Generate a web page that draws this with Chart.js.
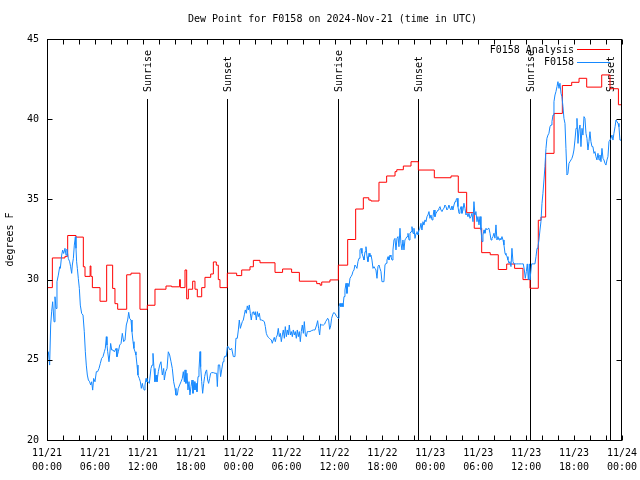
<!DOCTYPE html>
<html>
<head>
<meta charset="utf-8">
<script src="https://cdn.jsdelivr.net/npm/chart.js@4.4.1/dist/chart.umd.min.js"></script>
<style>
  html, body { margin: 0; padding: 0; background: #fff; }
  canvas { display: block; }
</style>
</head>
<body>
<canvas id="c" width="640" height="480"></canvas>
<script>
// ---------------- data (hours since 2024-11-21 00:00 UTC) ----------------
const chartTitle = 'Dew Point for F0158 on 2024-Nov-21 (time in UTC)';
const yTitle = 'degrees F';
const tickDates = ['11/21','11/21','11/21','11/21','11/22','11/22','11/22','11/22','11/23','11/23','11/23','11/23','11/24'];
const tickTimes = ['00:00','06:00','12:00','18:00','00:00','06:00','12:00','18:00','00:00','06:00','12:00','18:00','00:00'];

const sunEventHours = [12.56, 22.6, 36.48, 46.49, 60.52, 70.54];
const sunEventLabels = ['Sunrise','Sunset','Sunrise','Sunset','Sunrise','Sunset'];

// F0158 Analysis (red, stepped: value holds from given hour)
const analysisHours = [0.0,0.67,2.25,2.59,3.63,4.55,4.76,5.4,5.5,5.68,6.64,7.47,8.22,8.51,8.85,9.98,10.52,11.64,12.56,13.52,
  14.9,15.61,16.6,16.7,17.28,17.49,17.7,18.24,18.53,18.82,19.37,19.78,20.5,20.83,21.2,21.45,21.66,22.58,23.75,24.38,
  25.42,25.84,26.67,28.55,29.5,30.63,31.6,33.77,34.2,34.4,35.43,36.48,37.65,38.65,39.61,40.3,40.57,41.57,42.53,43.58,
  43.8,44.62,45.58,46.5,48.5,50.59,51.5,52.55,53.5,54.43,55.5,56.51,57.56,58.55,59.6,60.48,61.52,61.86,62.44,63.49,
  64.53,65.7,66.62,67.58,69.46,70.5,71.55,72.0];
const analysisDew = [29.5,31.35,31.45,32.75,32.65,30.8,30.2,30.85,30.2,29.5,28.65,30.9,29.45,28.5,28.15,30.3,30.4,28.15,28.4,29.4,
  29.6,29.55,30.0,29.5,30.6,28.8,29.4,29.9,29.4,28.93,29.5,30.14,30.35,31.1,30.9,30.0,29.5,30.4,30.25,30.6,
  30.8,31.2,31.05,30.45,30.66,30.45,29.9,29.75,29.65,29.85,29.98,30.9,32.5,34.4,35.1,34.96,34.9,36.07,36.46,36.73,
  36.85,37.08,37.35,36.83,36.35,36.46,35.44,34.17,33.2,31.68,31.55,30.63,30.97,30.7,30.0,29.46,33.7,33.9,37.87,40.36,
  42.1,42.3,42.55,42.0,42.76,41.9,40.9,40.9];

// F0158 observations (blue)
const obsHours = [0.0,0.17,0.33,0.46,0.58,0.71,0.88,1.0,1.13,1.25,1.42,1.59,1.67,1.84,1.96,2.09,2.25,2.38,2.5,2.67,
  2.84,2.96,3.09,3.17,3.3,3.42,3.55,3.63,3.71,3.8,3.92,4.05,4.17,4.34,4.51,4.67,4.8,4.92,5.05,5.18,
  5.34,5.47,5.59,5.72,5.84,6.01,6.18,6.34,6.51,6.68,6.84,7.01,7.18,7.3,7.43,7.51,7.6,7.76,7.85,7.97,
  8.1,8.26,8.43,8.64,8.76,8.93,9.1,9.27,9.43,9.6,9.77,9.93,10.1,10.23,10.35,10.52,10.64,10.77,10.89,11.02,
  11.14,11.27,11.39,11.56,11.69,11.81,11.94,12.06,12.19,12.27,12.4,12.52,12.69,12.81,13.02,13.15,13.27,13.4,13.52,13.65,
  13.77,13.94,14.11,14.27,14.44,14.61,14.69,14.86,15.03,15.19,15.36,15.53,15.69,15.86,16.03,16.15,16.32,16.44,16.61,16.78,
  16.94,17.07,17.2,
  17.28,17.4,17.53,17.65,17.78,17.9,18.03,18.16,18.28,18.41,18.53,18.66,18.78,18.91,19.03,19.16,19.24,19.37,19.49,19.62,
  19.74,19.87,19.99,20.12,20.24,20.37,20.49,20.62,20.83,21.04,21.24,21.33,21.45,21.62,21.74,21.87,22.04,22.16,22.29,22.45,
  22.58,22.7,22.91,23.12,23.33,23.54,23.66,23.83,23.96,24.08,24.21,24.33,24.46,24.58,24.71,24.83,24.96,25.08,25.21,25.33,
  25.46,25.58,25.71,25.83,25.96,26.08,26.21,26.34,26.46,26.59,26.71,26.88,27.05,27.21,27.34,27.46,27.59,27.71,27.84,27.96,
  28.09,28.21,28.34,28.46,28.59,28.71,28.84,28.96,29.09,29.22,29.34,29.47,29.59,29.72,29.84,29.97,30.09,30.22,30.34,30.47,
  30.59,30.72,30.84,30.97,31.09,31.22,31.34,31.47,31.59,31.72,31.84,31.97,32.1,32.22,32.35,32.47,32.6,32.72,32.93,33.14,
  33.35,33.56,33.76,33.89,34.01,34.14,34.26,34.39,34.51,34.64,34.77,34.89,35.02,35.14,35.27,35.39,35.52,35.64,35.77,35.89,
  36.06,36.27,36.48,36.56,36.69,36.81,36.94,37.06,37.19,37.31,37.44,37.56,37.69,37.81,37.94,38.06,38.19,38.31,38.44,38.56,
  38.69,38.81,38.94,39.07,39.19,39.32,39.44,39.57,39.69,39.82,39.94,40.07,40.19,40.32,40.44,40.57,40.69,40.82,40.94,41.07,
  41.19,41.32,41.44,41.57,41.69,41.82,41.94,42.07,42.19,42.32,42.45,42.57,42.7,42.82,42.95,43.07,43.2,43.32,43.45,43.57,
  43.7,43.82,43.95,44.07,44.2,44.32,44.45,44.57,44.7,44.82,44.94,45.08,45.2,45.33,45.45,45.58,45.7,45.83,45.95,46.08,
  46.21,46.33,46.45,46.58,46.7,46.83,46.95,47.08,47.2,47.33,47.45,47.58,47.7,47.83,47.95,48.08,48.21,48.33,48.46,48.58,
  48.71,48.83,48.96,49.08,49.21,49.33,49.46,49.58,49.71,49.83,49.96,50.08,50.21,50.33,50.46,50.58,50.71,50.83,50.96,51.09,
  51.21,51.34,51.46,51.59,51.71,51.84,51.96,52.09,52.21,52.34,52.46,52.59,52.71,52.84,52.96,
  53.09,53.21,53.34,53.46,53.59,53.71,53.84,53.96,54.09,54.22,54.34,54.47,54.59,54.72,54.84,54.97,55.09,55.22,55.34,55.47,
  55.6,55.72,55.84,55.97,56.09,56.22,56.34,56.47,56.6,56.72,56.84,56.97,57.1,57.22,57.35,57.47,57.6,57.72,57.85,57.97,
  58.1,58.22,58.35,58.47,58.6,58.81,59.02,59.22,59.43,59.64,59.77,59.89,60.02,60.14,60.27,60.39,60.48,60.68,60.89,61.1,
  61.23,61.36,61.48,61.6,
  61.73,61.85,61.98,62.1,62.23,62.35,62.48,62.6,62.73,62.85,62.98,63.11,63.23,63.36,63.48,63.61,63.73,63.86,63.98,64.11,
  64.23,64.36,64.48,64.61,64.73,64.86,64.98,65.11,65.23,65.36,65.48,65.61,65.73,65.86,65.98,66.11,66.24,66.36,66.49,66.61,
  66.74,66.86,66.99,67.11,67.24,67.36,67.49,67.61,67.74,67.86,67.99,68.11,68.24,68.36,68.49,68.61,68.74,68.86,68.99,69.12,
  69.24,69.37,69.49,69.62,69.74,69.87,69.99,70.12,70.24,70.37,70.49,70.62,70.74,70.87,70.99,71.13,71.25,71.37,71.5,71.62,
  71.74,71.87,72.0];
const obsDew = [25.4,25.5,24.67,27.17,27.99,28.62,27.37,28.93,28.2,29.87,30.28,30.8,30.7,31.53,31.84,31.63,31.95,31.53,31.9,31.32,
  31.11,30.8,30.39,30.91,31.32,32.15,32.67,31.95,31.11,30.7,30.08,29.45,28.41,27.89,27.79,26.75,25.5,24.67,24.05,23.74,
  23.63,23.43,23.63,23.11,23.84,23.63,24.26,24.26,24.46,24.78,25.09,25.19,25.5,25.71,26.44,25.92,25.5,24.88,25.3,26.02,
  25.61,25.61,25.5,25.71,25.19,25.5,25.92,26.02,26.65,26.13,26.23,27.17,27.48,27.96,27.58,27.48,26.75,26.13,25.71,25.5,
  25.3,24.67,24.05,23.84,23.63,23.22,23.53,23.22,23.11,23.43,23.84,23.63,23.63,23.53,24.46,24.67,25.4,24.46,23.63,24.05,
  23.63,24.26,24.67,24.88,24.05,24.46,23.74,24.26,24.46,25.5,25.3,24.88,24.46,23.63,23.22,22.8,22.8,23.22,23.43,23.63,
  23.84,24.26,23.63,
  24.37,23.53,24.16,23.12,23.64,22.81,23.33,23.74,22.91,23.64,23.12,23.53,23.01,23.95,24.37,25.51,24.57,23.64,22.91,23.53,
  23.95,24.26,24.37,23.74,23.53,23.85,24.16,24.2,24.2,24.16,24.16,23.33,24.68,24.68,23.95,24.37,24.88,25.09,25.24,25.2,
  25.82,25.82,25.61,25.72,25.2,25.2,26.34,26.34,26.86,27.48,26.96,27.17,27.38,27.48,27.8,28.11,27.9,28.36,28.11,28.42,
  27.9,27.48,27.94,28.0,27.8,28.0,27.48,28.0,27.69,27.9,27.48,27.48,27.44,27.38,27.07,26.65,26.49,26.4,26.34,26.28,
  26.24,26.03,26.24,26.4,26.13,26.4,26.55,26.96,26.44,26.65,26.13,26.55,26.86,26.34,27.07,26.44,26.86,26.55,27.17,26.55,
  26.76,26.44,26.86,26.55,26.76,26.34,26.86,26.44,26.76,26.13,26.76,27.17,26.65,27.38,26.55,26.44,26.76,26.76,26.76,26.82,
  26.86,26.86,27.17,27.44,26.96,26.55,27.23,27.17,27.17,27.17,27.23,27.38,27.48,27.59,27.48,26.9,27.11,27.59,27.8,27.94,
  27.9,27.69,27.59,28.31,28.52,28.31,28.52,28.31,28.94,29.35,29.77,29.14,29.77,29.56,30.08,30.18,30.29,30.5,30.6,30.91,
  30.81,30.7,31.12,31.33,31.85,31.95,31.64,31.43,31.22,31.74,32.05,31.43,31.12,31.64,31.43,31.53,31.22,30.7,30.81,30.7,
  30.6,30.08,30.81,30.91,30.7,30.5,29.87,29.87,29.87,30.91,31.02,31.22,31.43,31.22,31.53,31.43,31.22,31.85,32.47,32.57,
  31.85,32.57,32.68,32.05,33.2,32.26,31.85,32.47,31.85,32.47,32.57,32.68,32.88,32.47,32.88,32.99,33.3,32.88,33.2,32.57,
  32.88,32.99,32.78,33.09,33.2,33.51,33.09,33.61,33.4,33.72,33.61,33.92,34.03,34.24,33.82,34.03,33.72,33.92,34.34,33.92,
  34.13,34.13,34.34,34.44,34.55,34.34,34.24,34.38,34.44,34.65,34.55,34.34,34.44,34.65,34.44,34.34,34.59,34.34,34.65,34.86,
  34.96,35.07,34.55,34.13,34.34,34.55,34.13,34.34,34.76,34.44,34.03,34.13,33.92,34.13,33.82,
  33.93,34.13,33.61,34.86,34.03,34.24,33.61,33.93,33.41,33.93,33.1,32.37,32.78,33.1,32.89,33.2,33.1,33.18,33.2,32.89,
  32.47,32.58,32.68,32.89,32.58,33.41,32.47,32.68,32.47,32.58,32.47,32.68,32.47,32.16,31.64,31.54,31.43,31.23,31.02,31.12,
  30.81,31.95,31.12,30.98,30.98,30.98,30.98,30.98,30.98,30.98,30.6,30.08,30.5,30.98,29.98,30.98,29.98,30.98,30.98,30.98,
  31.43,31.95,32.06,32.47,
  33.09,33.61,34.75,35.38,36.21,37.04,38.18,38.81,39.01,39.12,39.53,39.64,39.85,40.26,41.09,41.51,41.72,42.03,42.34,41.92,
  42.24,41.61,41.4,40.78,40.05,39.74,38.18,36.52,36.62,37.25,37.35,37.46,37.56,37.77,38.08,38.7,39.43,40.05,38.49,39.33,
  39.64,38.29,39.43,39.01,40.16,40.05,39.12,38.81,38.08,38.6,39.22,38.6,38.29,38.29,37.87,37.98,37.66,37.46,37.87,37.46,
  37.77,37.35,38.18,37.56,37.46,37.25,37.14,37.46,37.66,38.6,38.7,38.81,39.01,38.7,39.12,39.53,39.95,39.95,39.74,39.53,
  38.7,38.7,38.6];

const yMin = 20, yMax = 45, yStep = 5;
const xMin = 0, xMax = 72, xStep = 2;

// ---------------- chart ----------------
const MONO = '"DejaVu Sans Mono", "Liberation Mono", monospace';
Chart.defaults.font.family = MONO;
Chart.defaults.font.size = 10;
Chart.defaults.color = '#000';

const framePlugin = {
  id: 'framePlugin',
  beforeDatasetsDraw(chart) {
    const { ctx, chartArea: a, scales: { x } } = chart;
    ctx.save();
    ctx.strokeStyle = '#000';
    ctx.lineWidth = 1;
    ctx.fillStyle = '#000';
    ctx.font = '10px ' + MONO;
    sunEventHours.forEach((h, i) => {
      const px = Math.round(x.getPixelForValue(h)) + 0.5;
      ctx.beginPath();
      ctx.moveTo(px, a.top + 60);
      ctx.lineTo(px, a.bottom);
      ctx.stroke();
      ctx.save();
      ctx.translate(px + 1, a.top + 53);
      ctx.rotate(-Math.PI / 2);
      ctx.textAlign = 'left';
      ctx.textBaseline = 'middle';
      ctx.fillText(sunEventLabels[i], 0, 0);
      ctx.restore();
    });
    ctx.restore();
  },
  afterDraw(chart) {
    const { ctx, chartArea: a, scales: { x, y } } = chart;
    ctx.save();
    // title
    ctx.font = '10px ' + MONO;
    ctx.fillStyle = '#000';
    ctx.textAlign = 'center';
    ctx.textBaseline = 'middle';
    ctx.fillText(chartTitle, (a.left + a.right) / 2 - 2, 19);

    ctx.strokeStyle = '#000';
    ctx.lineWidth = 1;
    const L = Math.round(a.left) + 0.5, R = Math.round(a.right) - 0.5;
    const T = Math.round(a.top) + 0.5, B = Math.round(a.bottom) + 0.5;
    ctx.strokeRect(L, T, R - L, B - T);
    const tl = 5;
    ctx.beginPath();
    for (let v = xMin; v <= xMax; v += xStep) {
      const px = Math.round(x.getPixelForValue(v)) + 0.5;
      ctx.moveTo(px, B); ctx.lineTo(px, B - tl);
      ctx.moveTo(px, T); ctx.lineTo(px, T + tl);
    }
    for (let v = yMin; v <= yMax; v += yStep) {
      const py = Math.round(y.getPixelForValue(v)) + 0.5;
      ctx.moveTo(L, py); ctx.lineTo(L + tl, py);
      ctx.moveTo(R, py); ctx.lineTo(R - tl, py);
    }
    ctx.stroke();

    // legend (top right, inside plot)
    ctx.textAlign = 'right';
    chart.data.datasets.forEach((ds, i) => {
      const ly = a.top + 11 + i * 12.5;
      ctx.fillStyle = '#000';
      ctx.fillText(ds.label, a.right - 48, ly);
      ctx.strokeStyle = ds.borderColor;
      ctx.beginPath();
      ctx.moveTo(a.right - 45, Math.round(ly - 1) + 0.5);
      ctx.lineTo(a.right - 12, Math.round(ly - 1) + 0.5);
      ctx.stroke();
    });
    ctx.restore();
  }
};

new Chart(document.getElementById('c'), {
  type: 'line',
  data: {
    datasets: [
      {
        label: 'F0158 Analysis',
        data: analysisHours.map((h, i) => ({ x: h, y: analysisDew[i] })),
        borderColor: '#ff0000',
        borderWidth: 1,
        pointRadius: 0,
        stepped: 'before',
        fill: false,
        order: 1
      },
      {
        label: 'F0158',
        data: obsHours.map((h, i) => ({ x: h, y: obsDew[i] })),
        borderColor: '#1588ff',
        borderWidth: 1,
        pointRadius: 0,
        tension: 0,
        fill: false,
        order: 0
      }
    ]
  },
  options: {
    responsive: false,
    animation: false,
    layout: { padding: { left: 0, right: 18, top: 39, bottom: 0 } },
    plugins: {
      legend: { display: false },
      tooltip: { enabled: false },
      title: { display: false }
    },
    scales: {
      x: {
        type: 'linear',
        min: xMin, max: xMax,
        grid: { display: false, drawTicks: false },
        border: { display: false },
        ticks: {
          stepSize: xStep,
          autoSkip: false,
          maxRotation: 0,
          padding: 6,
          color: '#000',
          font: { family: MONO, size: 10, lineHeight: 1.4 },
          callback: (v) => (v % 6 === 0 ? [tickDates[v / 6], tickTimes[v / 6]] : '')
        },
        afterFit: (s) => { s.height = 40; s.paddingLeft = 0; s.paddingRight = 0; }
      },
      y: {
        min: yMin, max: yMax,
        grid: { display: false, drawTicks: false },
        border: { display: false },
        ticks: {
          stepSize: yStep,
          padding: 8,
          color: '#000',
          font: { family: MONO, size: 10 }
        },
        title: {
          display: true,
          text: yTitle,
          color: '#000',
          font: { family: MONO, size: 10 },
          padding: { top: 4, bottom: 0 }
        },
        afterFit: (s) => { s.width = 47; s.paddingTop = 0; s.paddingBottom = 0; }
      }
    }
  },
  plugins: [framePlugin]
});
</script>
</body>
</html>
